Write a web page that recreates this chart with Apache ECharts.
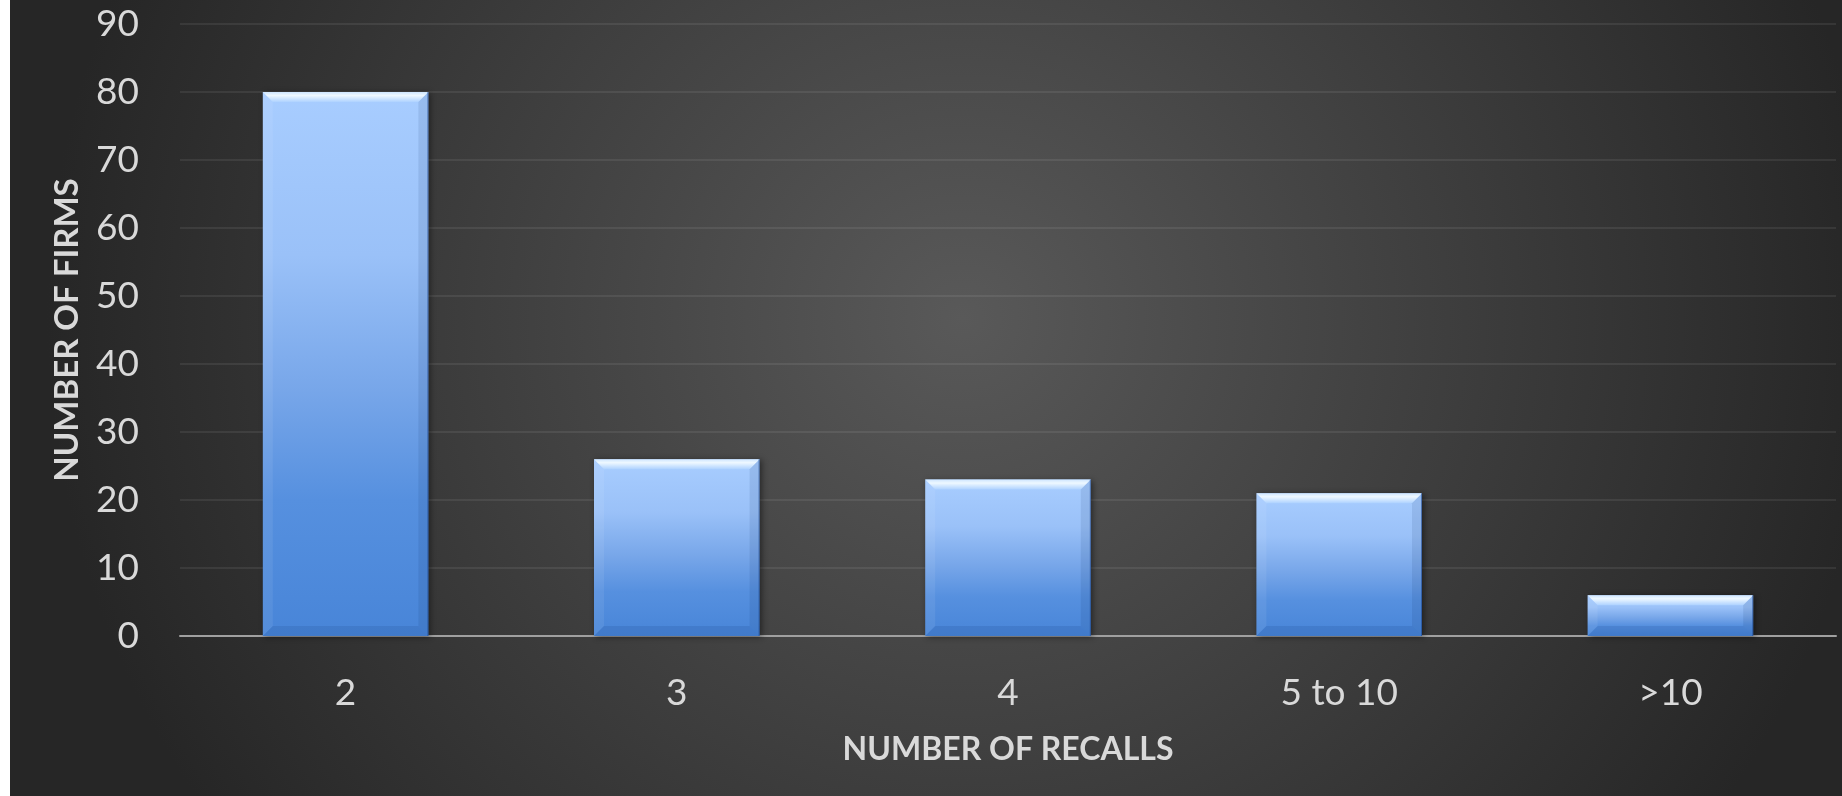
<!DOCTYPE html>
<html>
<head>
<meta charset="utf-8">
<title>Number of Recalls</title>
<script src="https://cdn.jsdelivr.net/npm/echarts@6/dist/echarts.min.js"></script>
<style>
  html, body { margin: 0; padding: 0; background: #ffffff; }
  #chart {
    position: absolute; left: 10px; top: 0;
    width: 1832px; height: 796px;
    background: radial-gradient(ellipse 50% 110% at 52% 40%, #595959 0%, #262626 100%);
  }
</style>
</head>
<body>
<div id="chart"></div>
<script>
// Firms grouped by how many recalls they had
const categories = ['2', '3', '4', '5 to 10', '>10'];
const firmCounts = [80, 26, 23, 21, 6];
const yTicks = { min: 0, max: 90, interval: 10 };

const chart = echarts.init(document.getElementById('chart'), null, { renderer: 'canvas' });

const FONT = 'Lato, "Open Sans", sans-serif';
const TEXT = '#d9d9d9';

// Bevelled bar: gradient body with a light top edge and shaded sides
function renderBar(params, api) {
  const idx = api.value(0);
  const val = api.value(1);
  const top = api.coord([idx, val]);
  const base = api.coord([idx, 0]);
  const w = api.size([1, 0])[0] * 0.5;
  const x0 = top[0] - w / 2, x1 = top[0] + w / 2;
  const y0 = top[1], y1 = base[1];
  const h = y1 - y0;
  const b = Math.min(10, h / 2);
  const E = echarts.graphic;
  return {
    type: 'group',
    children: [
      {
        type: 'rect',
        shape: { x: x0, y: y0, width: w, height: h },
        style: {
          fill: new E.LinearGradient(0, 0, 0, 1, [
            { offset: 0, color: '#a8cdff' },
            { offset: 0.3, color: '#9ac1f8' },
            { offset: 0.55, color: '#77a6e9' },
            { offset: 0.75, color: '#5690df' },
            { offset: 1, color: '#4885d8' }
          ]),
          shadowBlur: 6, shadowColor: 'rgba(0,0,0,0.45)', shadowOffsetX: 2, shadowOffsetY: 1
        }
      },
      {
        type: 'polygon',
        shape: { points: [[x0, y0], [x1, y0], [x1 - b, y0 + b], [x0 + b, y0 + b]] },
        style: {
          fill: new E.LinearGradient(0, 0, 0, 1, [
            { offset: 0, color: '#cfe6ff' },
            { offset: 0.35, color: '#eef8ff' },
            { offset: 1, color: '#aed2ff' }
          ])
        }
      },
      {
        type: 'polygon',
        shape: { points: [[x0, y0], [x0 + b, y0 + b], [x0 + b, y1 - b], [x0, y1]] },
        style: { fill: 'rgba(255,255,255,0.07)' }
      },
      {
        type: 'polygon',
        shape: { points: [[x1, y0], [x1, y1], [x1 - b, y1 - b], [x1 - b, y0 + b]] },
        style: { fill: 'rgba(10,40,90,0.10)' }
      },
      {
        type: 'polygon',
        shape: { points: [[x0, y1], [x0 + b, y1 - b], [x1 - b, y1 - b], [x1, y1]] },
        style: { fill: 'rgba(20,60,130,0.15)' }
      },
      {
        type: 'line',
        shape: { x1: x1 - 0.5, y1: y0, x2: x1 - 0.5, y2: y1 },
        style: { stroke: 'rgba(30,70,140,0.6)', lineWidth: 1 }
      }
    ]
  };
}

chart.setOption({
  backgroundColor: 'transparent',
  animation: false,
  grid: { left: 170, right: 6, top: 24, bottom: 160 },
  xAxis: {
    type: 'category',
    data: categories,
    name: 'NUMBER OF RECALLS',
    nameLocation: 'middle',
    nameGap: 98,
    nameTextStyle: { color: TEXT, fontFamily: FONT, fontWeight: 'bold', fontSize: 32 },
    axisLine: { lineStyle: { color: '#a0a0a0', width: 2 } },
    axisTick: { show: false },
    axisLabel: { color: TEXT, fontFamily: FONT, fontSize: 37, margin: 39 },
    splitLine: { show: false }
  },
  yAxis: {
    type: 'value',
    min: yTicks.min,
    max: yTicks.max,
    interval: yTicks.interval,
    name: 'NUMBER OF FIRMS',
    nameLocation: 'middle',
    nameGap: 96,
    nameRotate: 90,
    nameTextStyle: { color: TEXT, fontFamily: FONT, fontWeight: 'bold', fontSize: 33 },
    axisLine: { show: false },
    axisTick: { show: false },
    axisLabel: { color: TEXT, fontFamily: FONT, fontSize: 37, margin: 41 },
    splitLine: { lineStyle: { color: 'rgba(255,255,255,0.075)', width: 2 } }
  },
  series: [{
    type: 'custom',
    renderItem: renderBar,
    encode: { x: 0, y: 1 },
    data: firmCounts.map((v, i) => [i, v]),
    z: 2
  }]
});
</script>
</body>
</html>
